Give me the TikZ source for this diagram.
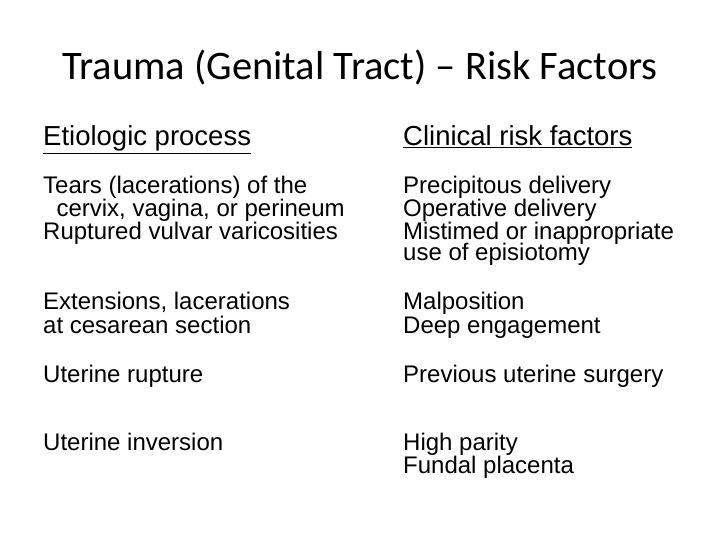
\documentclass[tikz,border=0pt]{standalone}
\usepackage{fontspec}
\setmainfont{Liberation Sans}
\newfontfamily\titlefont{Carlito}
\begin{document}
\begin{tikzpicture}[x=1pt,y=-1pt,
  txt/.style={anchor=base west,inner sep=0pt,font=\fontsize{24}{26}\selectfont},
  hdr/.style={anchor=base west,inner sep=0pt,font=\fontsize{27.5}{30}\selectfont},
  ttl/.style={anchor=base,inner sep=0pt,font=\titlefont\fontsize{40.5}{44}\selectfont}]
\useasboundingbox (0,0) rectangle (720,540);
\node[ttl] (t) at (360,80) {Trauma (Genital Tract) – Risk Factors};
\node[hdr] (h1) at (43,146) {\underline{Etiologic process}};
\node[hdr] (h2) at (403,146) {\underline{Clinical risk factors}};
\node[txt] (a1) at (43,194) {Tears (lacerations) of the};
\node[txt] (a2) at (43,217) {\ \ cervix, vagina, or perineum};
\node[txt] (a3) at (43,240) {Ruptured vulvar varicosities};
\node[txt] (b1) at (403,194) {Precipitous delivery};
\node[txt] (b2) at (403,217) {Operative delivery};
\node[txt] (b3) at (403,240) {Mistimed or inappropriate};
\node[txt] (b4) at (403,260) {use of episiotomy};
\node[txt] (c1) at (43,309) {Extensions, lacerations};
\node[txt] (c2) at (43,333) {at cesarean section};
\node[txt] (d1) at (403,309) {Malposition};
\node[txt] (d2) at (403,333) {Deep engagement};
\node[txt] (e1) at (43,382) {Uterine rupture};
\node[txt] (f1) at (403,382) {Previous uterine surgery};
\node[txt] (g1) at (43,450) {Uterine inversion};
\node[txt] (h3) at (403,450) {High parity};
\node[txt] (h4) at (403,473) {Fundal placenta};
\end{tikzpicture}
\end{document}
